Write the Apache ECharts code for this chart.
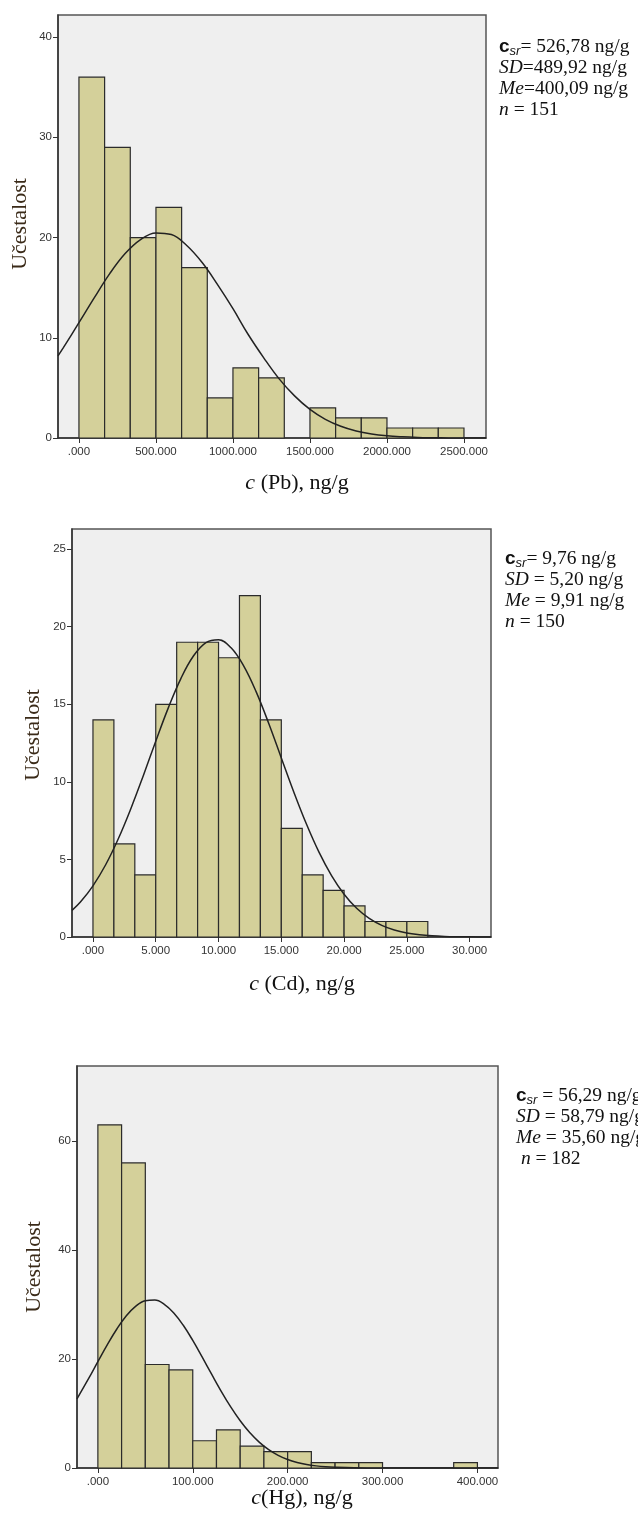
<!DOCTYPE html>
<html>
<head>
<meta charset="utf-8">
<script src="https://cdn.jsdelivr.net/npm/echarts@6/dist/echarts.min.js"></script>
<style>
html, body { margin: 0; padding: 0; background: #fff; }
#main { width: 638px; height: 1515px; }
</style>
</head>
<body>
<div id="main"></div>
<script>
// Pb histogram
var pbCounts = [36, 29, 20, 23, 17, 4, 7, 6, 0, 3, 2, 2, 1, 1, 1];
var pbBinStart = 0;
var pbBinWidth = 166.667;
var pbCurveX = [-136, -100, 0, 100, 200, 300, 400, 500, 600, 700, 800, 900, 1000, 1100, 1200, 1300, 1400, 1500, 1600, 1700, 1800, 1900, 2000, 2100, 2200, 2300, 2400, 2500, 2643];
var pbCurveY = [8.2, 9.04, 11.5, 14.0, 16.4, 18.4, 19.8, 20.46, 20.3, 19.2, 17.5, 15.3, 12.9, 10.3, 8.0, 5.9, 4.2, 2.85, 1.86, 1.17, 0.70, 0.40, 0.22, 0.12, 0.06, 0.03, 0.01, 0.005, 0];
var pbXTicks = [0, 500, 1000, 1500, 2000, 2500];
var pbYTicks = [0, 10, 20, 30, 40];

// Cd histogram
var cdCounts = [14, 6, 4, 15, 19, 19, 18, 22, 14, 7, 4, 3, 2, 1, 1, 1];
var cdBinStart = 0;
var cdBinWidth = 1.6667;
var cdCurveX = [-1.67, -1, 0, 1, 2, 3, 4, 5, 6, 7, 8, 9, 10, 11, 12, 13, 14, 15, 16, 17, 18, 19, 20, 21, 22, 23, 24, 25, 26, 27, 28, 29, 30, 31.7];
var cdCurveY = [1.72, 2.25, 3.30, 4.64, 6.30, 8.24, 10.38, 12.62, 14.77, 16.66, 18.11, 18.98, 19.16, 18.64, 17.48, 15.80, 13.76, 11.54, 9.33, 7.28, 5.47, 3.96, 2.76, 1.85, 1.20, 0.75, 0.45, 0.26, 0.15, 0.08, 0.04, 0.02, 0.01, 0];
var cdXTicks = [0, 5, 10, 15, 20, 25, 30];
var cdYTicks = [0, 5, 10, 15, 20, 25];

// Hg histogram
var hgCounts = [63, 56, 19, 18, 5, 7, 4, 3, 3, 1, 1, 1, 0, 0, 0, 1];
var hgBinStart = 0;
var hgBinWidth = 25;
var hgCurveX = [-22, -10, 0, 10, 20, 30, 40, 50, 60, 70, 80, 90, 100, 110, 120, 130, 140, 150, 160, 170, 180, 190, 200, 210, 220, 230, 240, 250, 270, 300, 421.7];
var hgCurveY = [12.7, 16.35, 19.53, 22.65, 25.52, 27.94, 29.72, 30.70, 30.82, 30.05, 28.47, 26.2, 23.42, 20.34, 17.17, 14.07, 11.21, 8.67, 6.51, 4.76, 3.37, 2.33, 1.56, 1.02, 0.64, 0.39, 0.23, 0.14, 0.04, 0.005, 0];
var hgXTicks = [0, 100, 200, 300, 400];
var hgYTicks = [0, 20, 40, 60];

var yName = 'Učestalost';
var stats = [
    ['= 526,78 ng/g', 'SD', '=489,92 ng/g', 'Me', '=400,09 ng/g', 'n', ' = 151', ''],
    ['= 9,76 ng/g', 'SD', ' = 5,20 ng/g', 'Me', ' = 9,91 ng/g', 'n', ' = 150', ''],
    [' = 56,29 ng/g', 'SD', ' = 58,79 ng/g', 'Me', ' = 35,60 ng/g', 'n', ' = 182', ' ']
];

var myChart = echarts.init(document.getElementById('main'), null, { renderer: 'canvas' });

function histData(counts, start, width) {
    return counts.map(function(c, i) {
        return [start + i * width, start + (i + 1) * width, c];
    });
}

function curveData(xs, ys) {
    return xs.map(function(x, i) { return [x, ys[i]]; });
}

function renderBar(params, api) {
    var c = api.value(2);
    if (!c) return;
    var p0 = api.coord([api.value(0), c]);
    var p1 = api.coord([api.value(1), 0]);
    return {
        type: 'rect',
        shape: { x: p0[0], y: p0[1], width: p1[0] - p0[0], height: p1[1] - p0[1] },
        style: { fill: '#d4d09a', stroke: '#2b2b2b', lineWidth: 1.2 }
    };
}

function fmtX(v) {
    return v === 0 ? '.000' : v + '.000';
}

var grids = [
    { left: 58, top: 15, width: 428, height: 423 },
    { left: 72, top: 529, width: 419, height: 408 },
    { left: 77, top: 1066, width: 421, height: 402 }
];
var xRanges = [[-136, 2643], [-1.67, 31.7], [-22, 421.7]];
var yRanges = [[0, 42.2], [0, 26.3], [0, 73.8]];
var xTicks = [pbXTicks, cdXTicks, hgXTicks];
var yTicks = [pbYTicks, cdYTicks, hgYTicks];

var option = {
    animation: false,
    grid: grids.map(function(g) {
        return {
            left: g.left, top: g.top, width: g.width, height: g.height,
            show: true, backgroundColor: '#efefef', borderColor: '#555', borderWidth: 1.5
        };
    }),
    xAxis: grids.map(function(g, i) {
        return {
            type: 'value', gridIndex: i, min: xRanges[i][0], max: xRanges[i][1],
            splitLine: { show: false },
            axisLine: { show: true, onZero: false, lineStyle: { color: '#333', width: 1.5 } },
            axisTick: { show: true, customValues: xTicks[i], length: 5, lineStyle: { color: '#333' } },
            axisLabel: {
                customValues: xTicks[i], formatter: fmtX, margin: 8,
                fontFamily: 'Liberation Sans', fontSize: 11.5, color: '#333'
            }
        };
    }),
    yAxis: grids.map(function(g, i) {
        return {
            type: 'value', gridIndex: i, min: yRanges[i][0], max: yRanges[i][1],
            splitLine: { show: false },
            axisLine: { show: true, onZero: false, lineStyle: { color: '#333', width: 1.5 } },
            axisTick: { show: true, customValues: yTicks[i], length: 5, lineStyle: { color: '#333' } },
            axisLabel: {
                customValues: yTicks[i], margin: 6,
                fontFamily: 'Liberation Sans', fontSize: 11.5, color: '#333'
            }
        };
    }),
    series: [
        { type: 'custom', xAxisIndex: 0, yAxisIndex: 0, renderItem: renderBar, encode: { x: [0, 1], y: 2 },
          data: histData(pbCounts, pbBinStart, pbBinWidth) },
        { type: 'custom', xAxisIndex: 1, yAxisIndex: 1, renderItem: renderBar, encode: { x: [0, 1], y: 2 },
          data: histData(cdCounts, cdBinStart, cdBinWidth) },
        { type: 'custom', xAxisIndex: 2, yAxisIndex: 2, renderItem: renderBar, encode: { x: [0, 1], y: 2 },
          data: histData(hgCounts, hgBinStart, hgBinWidth) },
        { type: 'line', xAxisIndex: 0, yAxisIndex: 0, smooth: 0.4, showSymbol: false, z: 5,
          lineStyle: { color: '#222', width: 1.5 }, data: curveData(pbCurveX, pbCurveY) },
        { type: 'line', xAxisIndex: 1, yAxisIndex: 1, smooth: 0.4, showSymbol: false, z: 5,
          lineStyle: { color: '#222', width: 1.5 }, data: curveData(cdCurveX, cdCurveY) },
        { type: 'line', xAxisIndex: 2, yAxisIndex: 2, smooth: 0.4, showSymbol: false, z: 5,
          lineStyle: { color: '#222', width: 1.5 }, data: curveData(hgCurveX, hgCurveY) }
    ],
    graphic: []
};

// axis titles
var yNamePos = [[20, 224], [33, 735], [34, 1267]];
yNamePos.forEach(function(p) {
    option.graphic.push({
        type: 'text', x: p[0], y: p[1], rotation: Math.PI / 2,
        style: {
            text: yName, align: 'center', verticalAlign: 'middle',
            font: '22px "Liberation Serif"', fill: '#3a2a18'
        }
    });
});

var xNames = [['c', ' (Pb), ng/g'], ['c', ' (Cd), ng/g'], ['c', '(Hg), ng/g']];
var xNamePos = [[297, 483], [302, 984], [302, 1498]];
xNames.forEach(function(n, i) {
    option.graphic.push({
        type: 'text', x: xNamePos[i][0], y: xNamePos[i][1],
        style: {
            text: '{i|' + n[0] + '}{t|' + n[1] + '}', align: 'center', verticalAlign: 'middle',
            rich: {
                i: { fontFamily: 'Liberation Serif', fontSize: 22, fontStyle: 'italic', fill: '#111' },
                t: { fontFamily: 'Liberation Serif', fontSize: 22, fill: '#111' }
            }
        }
    });
});

// statistics text
var statPos = [[499, 36], [505, 548], [516, 1085]];
stats.forEach(function(s, i) {
    var txt = '{cs|c}{sub|sr}{t|' + s[0] + '}\n' +
        '{i|' + s[1] + '}{t|' + s[2] + '}\n' +
        '{i|' + s[3] + '}{t|' + s[4] + '}\n' +
        '{t|' + s[7] + '}{i|' + s[5] + '}{t|' + s[6] + '}';
    option.graphic.push({
        type: 'text', x: statPos[i][0], y: statPos[i][1],
        style: {
            text: txt, align: 'left', verticalAlign: 'top',
            rich: {
                cs: { fontFamily: 'Liberation Sans', fontWeight: 'bold', fontSize: 19, fill: '#111', lineHeight: 21 },
                sub: { fontFamily: 'Liberation Sans', fontStyle: 'italic', fontSize: 13, fill: '#111', lineHeight: 21, padding: [10, 0, 0, 0] },
                t: { fontFamily: 'Liberation Serif', fontSize: 19.5, fill: '#111', lineHeight: 21 },
                i: { fontFamily: 'Liberation Serif', fontSize: 19.5, fontStyle: 'italic', fill: '#111', lineHeight: 21 }
            }
        }
    });
});

myChart.setOption(option);
</script>
</body>
</html>
